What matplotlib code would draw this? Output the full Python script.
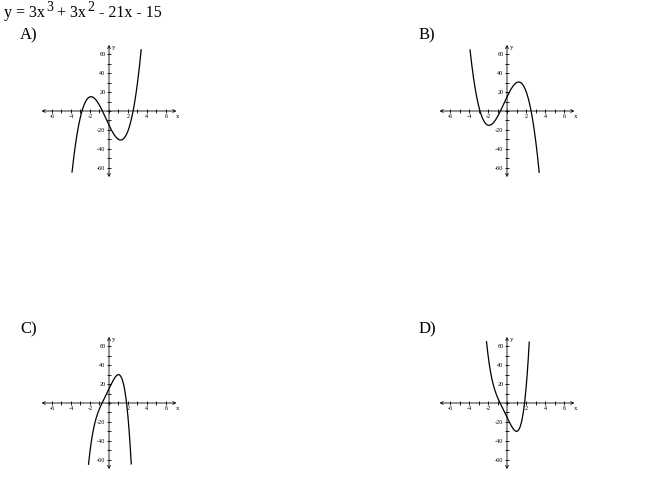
import numpy as np
import matplotlib.pyplot as plt

plt.rcParams['font.family'] = 'Liberation Serif'
plt.rcParams['axes.unicode_minus'] = False

# title pieces: (text, is superscript)
title_parts = [('y = 3x', False), ('3', True), ('+ 3x', False), ('2', True), ('- 21x - 15', False)]
title_x = [4, 46, 57, 87, 99]
choices = ['A)', 'B)', 'C)', 'D)']

# polynomial coefficients, highest power first
coef_a = [3, 3, -21, -15]
coef_b = [-3, -3, 21, 15]
coef_c = [-3, -3, 0, 21, 15]
coef_d = [3, 3, 0, -21, -15]
curves = [coef_a, coef_b, coef_c, coef_d]

x_ticks = [-6, -4, -2, 2, 4, 6]
y_ticks = [-60, -40, -20, 20, 40, 60]
x_minor = np.arange(-6, 7)
y_minor = np.arange(-60, 70, 10)

W, H = 650, 483
px_x, px_y = 9.5, 0.945     # pixels per unit
xr, yr = 7.6, 74
origins = [(109, 111), (507, 111), (109, 403), (507, 403)]
label_pos = [(20, 39), (419, 39), (20, 333), (419, 333)]

fig = plt.figure(figsize=(W / 100, H / 100), dpi=100)
for (txt, sup), tx in zip(title_parts, title_x):
    if sup:
        fig.text(tx / W, 1 - 11 / H, txt, fontsize=10, va='baseline')
    else:
        fig.text(tx / W, 1 - 17 / H, txt, fontsize=11.5, va='baseline')

for coef, name, (ox, oy), (lx, ly) in zip(curves, choices, origins, label_pos):
    fig.text(lx / W, 1 - ly / H, name, fontsize=12, va='baseline')

    w, h = 2 * xr * px_x, 2 * yr * px_y
    ax = fig.add_axes([(ox - w / 2) / W, (H - oy - h / 2) / H, w / W, h / H])
    ax.set_xlim(-xr, xr)
    ax.set_ylim(-yr, yr)
    ax.patch.set_alpha(0)

    for s in ['top', 'right']:
        ax.spines[s].set_visible(False)
    for s in ['bottom', 'left']:
        ax.spines[s].set_position('zero')
        ax.spines[s].set_visible(False)

    ax.annotate('', xy=(7.1, 0), xytext=(-7.1, 0),
                arrowprops=dict(arrowstyle='<->', lw=0.6, color='black',
                                shrinkA=0, shrinkB=0, mutation_scale=5))
    ax.annotate('', xy=(0, 70), xytext=(0, -70),
                arrowprops=dict(arrowstyle='<->', lw=0.6, color='black',
                                shrinkA=0, shrinkB=0, mutation_scale=5))

    ax.set_xticks(x_ticks)
    ax.set_xticklabels([str(t) for t in x_ticks])
    ax.set_xticks(x_minor, minor=True)
    ax.set_yticks(y_ticks)
    ax.set_yticklabels([str(t) for t in y_ticks])
    ax.set_yticks(y_minor, minor=True)
    ax.tick_params(which='both', direction='inout', length=3, width=0.6,
                   labelsize=4.5, pad=1)

    ax.text(7.0, -3, 'x', fontsize=5, ha='left', va='top')
    ax.text(0.35, 67, 'y', fontsize=5, ha='left', va='center')

    xs = np.linspace(-7, 7, 3000)
    ys = np.polyval(coef, xs)
    keep = np.abs(ys) <= 65
    ax.plot(xs[keep], ys[keep], color='black', lw=0.9)

fig.savefig('out.png', dpi=100)
